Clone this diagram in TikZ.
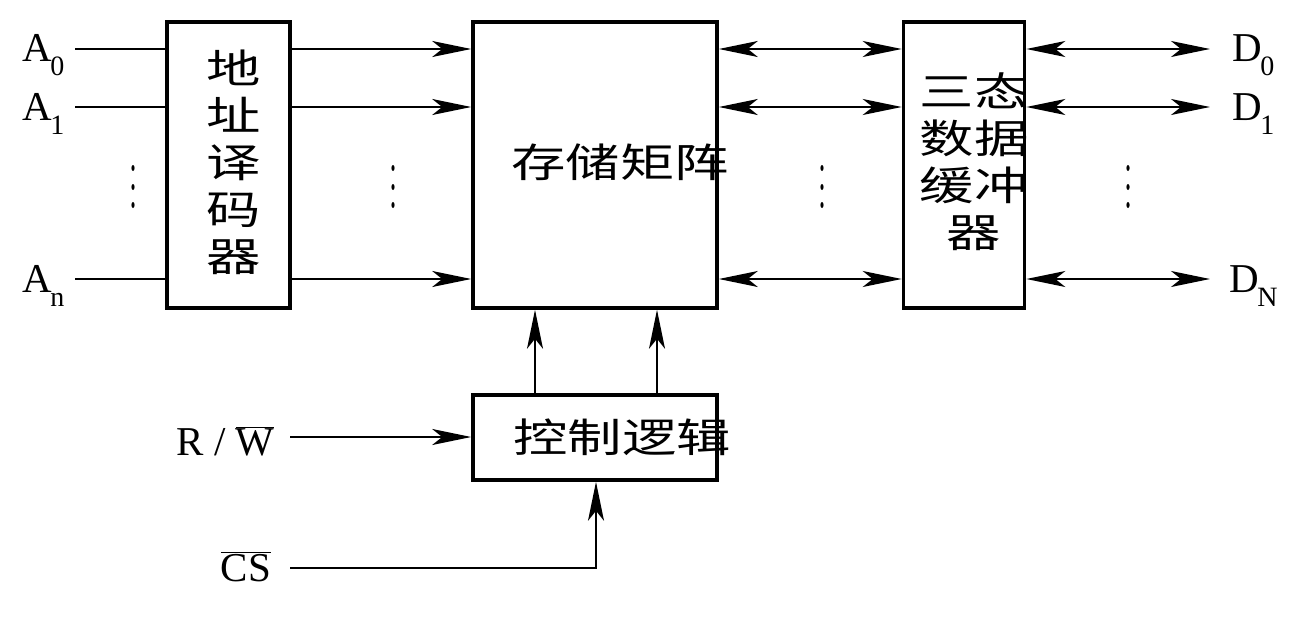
\documentclass[tikz,border=0pt]{standalone}
\usepackage{fontspec}
\setmainfont{Liberation Serif}
\newfontfamily\cjk{Noto Sans CJK SC}[FakeStretch=1.36]
\usetikzlibrary{arrows.meta}
\newcommand\subsc[1]{\rlap{\kern-1.5pt\raisebox{-14pt}{\fontsize{28}{28}\selectfont #1}}}
\newcommand\ovl[1]{$\overline{\hbox{#1}}$}
\tikzset{
  thinl/.style={line width=1.8pt},
  tipS/.tip={Stealth[length=39pt,width=16pt,inset=10pt]},
  arr/.style={thinl,-tipS},
  darr/.style={thinl,tipS-tipS},
  blk/.style={draw,line width=3.6pt,inner sep=0pt},
  lab/.style={inner sep=0pt,font=\fontsize{41}{48}\selectfont},
  cn/.style={inner sep=0pt,align=center,font=\cjk\fontsize{40}{47}\selectfont},
}
\begin{document}
\begin{tikzpicture}[x=1pt,y=-1pt]
\useasboundingbox (0,0) rectangle (1315,618);
% blocks
\node[blk,minimum width=123pt,minimum height=286pt] (dec) at (228.5,165) {};
\node[blk,minimum width=244pt,minimum height=286pt] (mem) at (595,165) {};
\node[blk,minimum width=121pt,minimum height=286pt] (buf) at (964,165) {};
\node[blk,minimum width=244pt,minimum height=85pt] (ctl) at (595,437.5) {};
% block texts
\node[cn] (dectxt) at (234,162.5) {地\\址\\译\\码\\器};
\node[cn] (memtxt) at (620,162) {存储矩阵};
\node[cn] (buftxt) at (974,162) {三态\\数据\\缓冲\\器};
\node[cn] (ctltxt) at (622,437) {控制逻辑};
% labels
\node[lab,anchor=base west] (A0) at (22,62) {A\subsc{0}};
\node[lab,anchor=base west] (A1) at (22,120) {A\subsc{1}};
\node[lab,anchor=base west] (An) at (22,292) {A\subsc{n}};
\node[lab,anchor=base west] (D0) at (1232,62) {D\subsc{0}};
\node[lab,anchor=base west] (D1) at (1232,120) {D\subsc{1}};
\node[lab,anchor=base west] (DN) at (1229,292) {D\subsc{N}};
\node[lab,anchor=base] (RW) at (225.5,455) {R / \ovl{W}};
\node[lab,anchor=base] (CS) at (246,581) {\ovl{CS}};
% connector ends
\coordinate (a0) at (75,49);
\coordinate (a1) at (75,107);
\coordinate (an) at (75,279);
\coordinate (d0) at (1210,49);
\coordinate (d1) at (1210,107);
\coordinate (dn) at (1210,279);
\coordinate (u1) at (535,350);
\coordinate (u2) at (657,350);
\coordinate (rw) at (290,437);
\coordinate (cs) at (290,568);
\coordinate (csc) at (596,568);
% address lines
\foreach \p in {a0,a1,an}{
  \draw[thinl] (\p) -- (dec.west |- \p);
  \draw[arr] (dec.east |- \p) -- (mem.west |- \p);
  \draw[darr] (mem.east |- \p) -- (buf.west |- \p);
}
\draw[darr] (buf.east |- d0) -- (d0);
\draw[darr] (buf.east |- d1) -- (d1);
\draw[darr] (buf.east |- dn) -- (dn);
% control
\draw[arr] (ctl.north -| u1) -- (mem.south -| u1);
\draw[arr] (ctl.north -| u2) -- (mem.south -| u2);
\draw[arr] (rw) -- (ctl.west |- rw);
\draw[arr] (cs) -- (csc) -- (ctl.south -| csc);
% dots
\foreach \x in {133,393,822,1128}{
  \foreach \y in {168,187,205}{
    \fill (\x,\y) ellipse (1.6 and 3);
  }
}
\end{tikzpicture}
\end{document}
